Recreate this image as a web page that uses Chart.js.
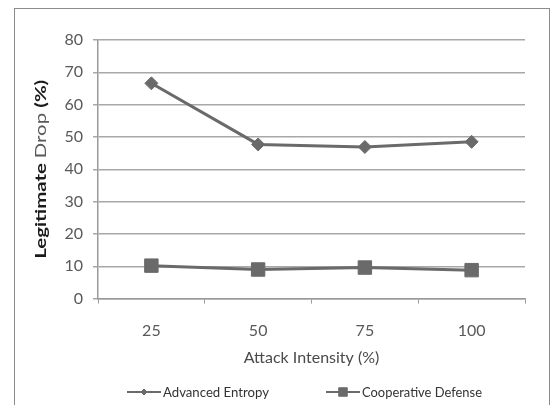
<!DOCTYPE html>
<html><head><meta charset="utf-8">
<script src="https://cdn.jsdelivr.net/npm/chart.js@4/dist/chart.umd.min.js"></script>
<style>
html,body{margin:0;padding:0;background:#fff;}
#wrap{position:relative;width:554px;height:405px;overflow:hidden;}
#frame{position:absolute;left:14px;top:8px;width:536px;height:420px;border:1.5px solid #8c8c8c;box-sizing:border-box;}
canvas{position:absolute;left:0;top:0;}
</style></head>
<body><div id="wrap"><div id="frame"></div><canvas id="c" width="554" height="405"></canvas></div>
<script>
const categories = ['25', '50', '75', '100'];
const advancedEntropy = [66.6, 47.7, 46.9, 48.5];
const cooperativeDefense = [10.2, 9.0, 9.6, 8.8];
const seriesNames = ['Advanced Entropy', 'Cooperative Defense'];
const yTitleParts = [['Legitimate ', 'bold', '#1a1a1a'], ['Drop ', 'normal', '#595959'], ['(%)', 'bold', '#1a1a1a']];
const xTitle = 'Attack Intensity (%)';

const lineColor = '#6a6a6a';
const FONT = 'Lato, "Open Sans", sans-serif';

const yTitlePlugin = {
  id: 'yTitle',
  afterDraw(chart) {
    const ctx = chart.ctx, ca = chart.chartArea;
    ctx.save();
    ctx.translate(41, (ca.top + ca.bottom) / 2);
    ctx.rotate(-Math.PI / 2);
    ctx.textBaseline = 'middle';
    const size = 16;
    let widths = yTitleParts.map(p => { ctx.font = p[1] + ' ' + size + 'px ' + FONT; return ctx.measureText(p[0]).width; });
    const total = widths.reduce((a, b) => a + b, 0);
    const target = 179;
    const sx = target / total;
    ctx.scale(sx, 1);
    let x = -total / 2;
    yTitleParts.forEach((p, i) => {
      ctx.font = p[1] + ' ' + size + 'px ' + FONT;
      ctx.fillStyle = p[2];
      ctx.textAlign = 'left';
      ctx.fillText(p[0], x, 0);
      x += widths[i];
    });
    ctx.restore();
  }
};

const legendPlugin = {
  id: 'customLegend',
  afterDraw(chart) {
    const ctx = chart.ctx, ca = chart.chartArea;
    const y = chart.height - 13;
    const lineLen = 34, gap = 2, itemGap = 57;
    const textW = [106, 120];
    const styles = ['rectRot', 'rect'];
    const radii = [3, 6];
    const totalW = 2 * (lineLen + gap) + textW[0] + textW[1] + itemGap;
    let x = (ca.left + ca.right) / 2 - 7 - totalW / 2;
    for (let i = 0; i < 2; i++) {
      ctx.save();
      ctx.strokeStyle = lineColor; ctx.fillStyle = lineColor; ctx.lineWidth = 2;
      ctx.beginPath(); ctx.moveTo(x, y); ctx.lineTo(x + lineLen, y); ctx.stroke();
      ctx.lineWidth = 1;
      Chart.helpers.drawPoint(ctx, { pointStyle: styles[i], radius: radii[i], borderWidth: 1 }, x + lineLen / 2, y);
      ctx.restore();
      ctx.save();
      ctx.font = '14px "Liberation Sans Narrow", ' + FONT;
      ctx.fillStyle = '#333';
      ctx.textBaseline = 'middle';
      const w = ctx.measureText(seriesNames[i]).width;
      ctx.translate(x + lineLen + gap, y);
      ctx.scale(textW[i] / w, 1);
      ctx.fillText(seriesNames[i], 0, 0);
      ctx.restore();
      x += lineLen + gap + textW[i] + itemGap;
    }
  }
};

new Chart(document.getElementById('c'), {
  type: 'line',
  data: {
    labels: categories,
    datasets: [
      { label: seriesNames[0], data: advancedEntropy, borderColor: lineColor, backgroundColor: lineColor,
        pointBorderColor: lineColor, pointBackgroundColor: lineColor,
        borderWidth: 3, pointStyle: 'rectRot', pointRadius: 6.5, pointBorderWidth: 1, tension: 0 },
      { label: seriesNames[1], data: cooperativeDefense, borderColor: lineColor, backgroundColor: lineColor,
        pointBorderColor: lineColor, pointBackgroundColor: lineColor,
        borderWidth: 3, pointStyle: 'rect', pointRadius: 9.5, pointBorderWidth: 1, tension: 0 }
    ]
  },
  options: {
    responsive: false,
    animation: false,
    devicePixelRatio: 1,
    layout: { padding: { left: 0, top: 40, right: 29, bottom: 35 } },
    plugins: { legend: { display: false }, tooltip: { enabled: false } },
    scales: {
      x: {
        offset: true,
        grid: { offset: true, drawOnChartArea: false, drawTicks: true, tickLength: 5, color: '#9a9a9a' },
        border: { color: '#9a9a9a', width: 1.5 },
        ticks: { color: '#595959', font: { family: FONT, size: 16 }, padding: 18, maxRotation: 0 },
        title: { display: true, text: xTitle, color: '#4a4a4a', font: { family: FONT, size: 16 }, padding: { top: 0, bottom: 3 } },
        afterFit(s) { s.height = 71.4; }
      },
      y: {
        min: 0, max: 80,
        ticks: { stepSize: 10, color: '#595959', font: { family: FONT, size: 16 }, padding: 10 },
        grid: { color: '#a8a8a8', lineWidth: 1.5, tickLength: 5 },
        border: { color: '#9a9a9a', width: 1.5 },
        afterFit(s) { s.width = 98; }
      }
    }
  },
  plugins: [yTitlePlugin, legendPlugin]
});
</script>
</body></html>
